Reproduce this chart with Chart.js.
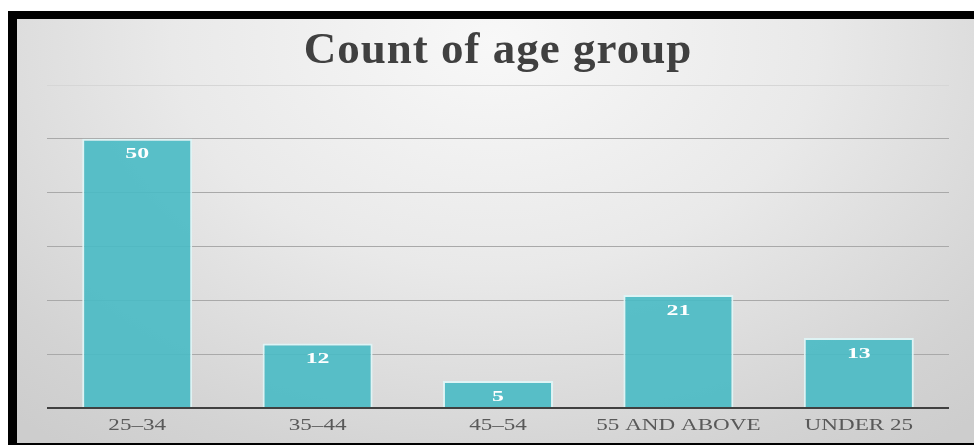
<!DOCTYPE html>
<html>
<head>
<meta charset="utf-8">
<script src="https://cdn.jsdelivr.net/npm/chart.js@4"></script>
<style>
  html, body { margin: 0; padding: 0; background: #fff; }
  .frame {
    position: absolute;
    left: 8px; top: 11px;
    width: 957px; height: 424px;
    border-left: 9px solid #000;
    border-top: 8px solid #000;
    border-bottom: 2px solid #000;
    background: radial-gradient(ellipse 75% 120% at 50% 5%, #f8f8f8 0%, #e9e9e9 45%, #d3d3d3 85%, #cdcdcd 100%);
  }
  canvas { display: block; }
</style>
</head>
<body>
<div class="frame">
  <canvas id="bars" width="957" height="424"></canvas>
</div>
<script>
const categories = ['25–34', '35–44', '45–54', '55 AND ABOVE', 'UNDER 25'];
const counts = [50, 12, 5, 21, 13];
const yTicks = [0, 10, 20, 30, 40, 50, 60];

// text in the original is wide, so draw it horizontally stretched
function wideText(ctx, text, x, y, sx) {
  ctx.save();
  ctx.translate(x, y);
  ctx.scale(sx, 1);
  ctx.fillText(text, 0, 0);
  ctx.restore();
}

const labelPlugin = {
  id: 'labels',
  beforeDraw(chart) {
    // slight spacing for the title
    chart.ctx.letterSpacing = '1px';
  },
  afterDatasetsDraw(chart) {
    const ctx = chart.ctx;
    const meta = chart.getDatasetMeta(0);
    ctx.save();
    ctx.letterSpacing = '0px';
    ctx.fillStyle = '#ffffff';
    ctx.font = 'bold 14px "Liberation Serif", "Times New Roman", serif';
    ctx.textAlign = 'center';
    ctx.textBaseline = 'middle';
    meta.data.forEach((bar, i) => {
      wideText(ctx, String(counts[i]), bar.x, bar.y + 16, 1.7);
    });
    ctx.restore();
  },
  afterDraw(chart) {
    const ctx = chart.ctx;
    const x = chart.scales.x;
    ctx.save();
    ctx.letterSpacing = '0px';
    ctx.fillStyle = '#595959';
    ctx.font = '16.5px "Liberation Serif", "Times New Roman", serif';
    ctx.textAlign = 'center';
    ctx.textBaseline = 'middle';
    categories.forEach((c, i) => {
      wideText(ctx, c, x.getPixelForTick(i), chart.chartArea.bottom + 18, 1.4);
    });
    ctx.restore();
  }
};

new Chart(document.getElementById('bars'), {
  type: 'bar',
  data: {
    labels: categories,
    datasets: [{
      label: 'Count',
      data: counts,
      backgroundColor: 'rgba(72,186,196,0.9)',
      borderColor: 'rgba(222,244,246,0.95)',
      borderWidth: 2,
      barPercentage: 0.61,
      categoryPercentage: 1
    }]
  },
  options: {
    responsive: false,
    animation: false,
    layout: { padding: { left: 30, right: 25, top: 0, bottom: 35 } },
    plugins: {
      legend: { display: false },
      tooltip: { enabled: false },
      title: {
        display: true,
        text: 'Count of age group',
        color: '#404040',
        font: { family: '"Liberation Serif", "Times New Roman", serif', size: 45, weight: 'bold' },
        padding: { top: 5, bottom: 7 }
      }
    },
    scales: {
      x: {
        grid: { display: false, drawTicks: false },
        border: { display: false },
        ticks: { display: false }
      },
      y: {
        min: yTicks[0],
        max: yTicks[yTicks.length - 1],
        afterBuildTicks: axis => { axis.ticks = yTicks.map(v => ({ value: v })); },
        border: { display: false },
        ticks: { display: false },
        grid: {
          drawTicks: false,
          color: c => c.tick.value === 0 ? '#404040' : (c.tick.value === 60 ? '#d6d6d6' : '#a9a9a9'),
          lineWidth: c => c.tick.value === 0 ? 2 : 1
        }
      }
    }
  },
  plugins: [labelPlugin]
});
</script>
</body>
</html>
